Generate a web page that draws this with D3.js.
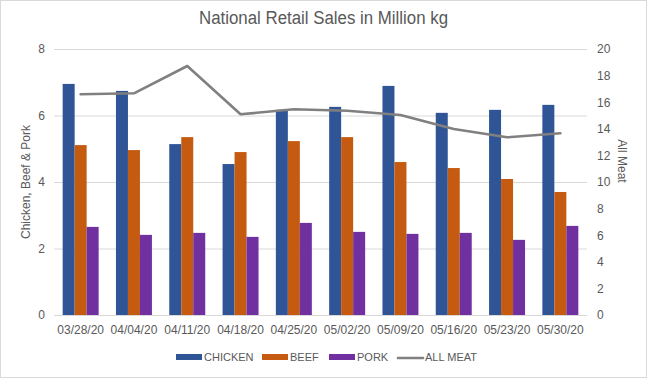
<!DOCTYPE html>
<html>
<head>
<meta charset="utf-8">
<script src="https://cdn.jsdelivr.net/npm/d3@7"></script>
<style>
  body { margin: 0; background: #fff; }
  svg { display: block; font-family: "Liberation Sans", Arial, sans-serif; }
</style>
</head>
<body>
<svg id="chart"></svg>
<script>
const dates = ["03/28/20", "04/04/20", "04/11/20", "04/18/20", "04/25/20",
  "05/02/20", "05/09/20", "05/16/20", "05/23/20", "05/30/20"];
const chicken = [6.95, 6.74, 5.14, 4.54, 6.17, 6.26, 6.89, 6.08, 6.17, 6.32];
const beef = [5.11, 4.96, 5.35, 4.90, 5.23, 5.35, 4.60, 4.42, 4.09, 3.70];
const pork = [2.65, 2.41, 2.47, 2.35, 2.77, 2.50, 2.44, 2.47, 2.26, 2.68];
const allMeat = [16.6, 16.67, 18.72, 15.09, 15.47, 15.36, 15.04, 13.98, 13.36, 13.66];
const leftTicks = [0, 2, 4, 6, 8];
const rightTicks = [0, 2, 4, 6, 8, 10, 12, 14, 16, 18, 20];

const barSeries = [
  { name: "CHICKEN", values: chicken, color: "#2F5597" },
  { name: "BEEF", values: beef, color: "#C55A11" },
  { name: "PORK", values: pork, color: "#7030A0" }
];
const lineColor = "#808080";
const textColor = "#595959";

const w = 647, h = 378;
const plotL = 54, plotR = 587, plotT = 49, plotB = 315;

const svg = d3.select("#chart").attr("width", w).attr("height", h);

svg.append("rect")
  .attr("x", 0.5).attr("y", 0.5)
  .attr("width", w - 1).attr("height", h - 1)
  .attr("fill", "#fff").attr("stroke", "#D9D9D9");

const x = d3.scaleBand().domain(dates).range([plotL, plotR]);
const gap = x.bandwidth() * 0.325;
const x1 = d3.scaleBand().domain(barSeries.map(s => s.name))
  .range([gap / 2, x.bandwidth() - gap / 2]);
const yL = d3.scaleLinear().domain([0, 8]).range([plotB, plotT]);
const yR = d3.scaleLinear().domain([0, 20]).range([plotB, plotT]);

// gridlines
svg.append("g")
  .attr("transform", "translate(" + plotL + ",0)")
  .call(d3.axisLeft(yL).tickValues(leftTicks).tickSize(-(plotR - plotL)).tickFormat(""))
  .call(g => g.select(".domain").remove())
  .call(g => g.selectAll("line").attr("stroke", "#D9D9D9"));

// left axis labels
svg.append("g")
  .attr("transform", "translate(" + (plotL - 9) + ",0)")
  .call(d3.axisLeft(yL).tickValues(leftTicks).tickSize(0).tickPadding(0))
  .call(g => g.select(".domain").remove())
  .call(g => g.selectAll("text").attr("fill", textColor).style("font-size", "12px")
    .style("font-family", "Liberation Sans"));

// right axis labels
svg.append("g")
  .attr("transform", "translate(" + (plotR + 10) + ",0)")
  .call(d3.axisRight(yR).tickValues(rightTicks).tickSize(0).tickPadding(0))
  .call(g => g.select(".domain").remove())
  .call(g => g.selectAll("text").attr("fill", textColor).style("font-size", "12px")
    .style("font-family", "Liberation Sans"));

// bars
const groups = svg.append("g").selectAll("g")
  .data(barSeries)
  .join("g")
  .attr("fill", d => d.color);
groups.selectAll("rect")
  .data(s => s.values.map((v, i) => ({ s: s.name, v: v, d: dates[i] })))
  .join("rect")
  .attr("x", d => x(d.d) + x1(d.s))
  .attr("y", d => yL(d.v))
  .attr("width", x1.bandwidth())
  .attr("height", d => plotB - yL(d.v));

// all meat line
const line = d3.line()
  .x((d, i) => x(dates[i]) + x.bandwidth() / 2)
  .y(d => yR(d));
svg.append("path")
  .datum(allMeat)
  .attr("d", line)
  .attr("fill", "none")
  .attr("stroke", lineColor)
  .attr("stroke-width", 2.6)
  .attr("stroke-linejoin", "round")
  .attr("stroke-linecap", "round");

// x axis labels
svg.append("g")
  .attr("transform", "translate(0," + plotB + ")")
  .call(d3.axisBottom(x).tickSize(0).tickPadding(10))
  .call(g => g.select(".domain").remove())
  .call(g => g.selectAll("text").attr("fill", textColor).style("font-size", "12px")
    .style("font-family", "Liberation Sans"));

// title
svg.append("text")
  .attr("x", 323.5).attr("y", 24)
  .attr("text-anchor", "middle")
  .attr("fill", textColor)
  .style("font-size", "18px")
  .attr("textLength", 249)
  .attr("lengthAdjust", "spacingAndGlyphs")
  .text("National Retail Sales in Million kg");

// axis titles
svg.append("text")
  .attr("transform", "translate(30,182) rotate(-90)")
  .attr("text-anchor", "middle")
  .attr("fill", textColor)
  .style("font-size", "12px")
  .text("Chicken, Beef & Pork");
svg.append("text")
  .attr("transform", "translate(618,161) rotate(90)")
  .attr("text-anchor", "middle")
  .attr("fill", textColor)
  .style("font-size", "12px")
  .text("All Meat");

// legend
const legendItems = [
  { name: "CHICKEN", color: barSeries[0].color, x: 176, type: "bar" },
  { name: "BEEF", color: barSeries[1].color, x: 262, type: "bar" },
  { name: "PORK", color: barSeries[2].color, x: 329, type: "bar" },
  { name: "ALL MEAT", color: lineColor, x: 397, type: "line" }
];
const lg = svg.append("g").selectAll("g")
  .data(legendItems)
  .join("g")
  .attr("transform", d => "translate(" + d.x + ",357)");
lg.filter(d => d.type === "bar").append("rect")
  .attr("x", 0).attr("y", -3).attr("width", 26).attr("height", 6)
  .attr("fill", d => d.color);
lg.filter(d => d.type === "line").append("line")
  .attr("x1", 1).attr("x2", 26).attr("y1", 1).attr("y2", 1)
  .attr("stroke", d => d.color).attr("stroke-width", 2.6)
  .attr("stroke-linecap", "round");
lg.append("text")
  .attr("x", 28).attr("y", 4)
  .attr("fill", textColor)
  .style("font-size", "11px")
  .text(d => d.name);
</script>
</body>
</html>
